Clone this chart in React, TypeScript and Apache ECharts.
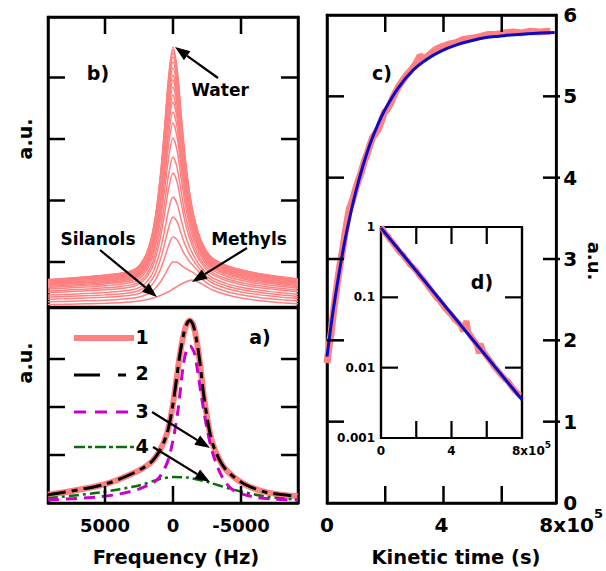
import React, { useEffect, useRef } from 'react';
import * as echarts from 'echarts';

const FONT = 'DejaVu Sans';
const RED = '#ff8080';
const BLUE = '#0c0cc4';
const MAGENTA = '#cc00cc';
const GREEN = '#0b6e0b';

// ---------- panel a) : frequency (Hz) vs a.u. ----------
const aFreqTotal = [9190, 5150, 2940, 1690, 960, 440, 70, -220, -510, -810, -1030, -1250, -1470, -1760, -1990, -2280, -2720, -3090, -3820, -5150, -6910, -9190];
const aValTotal = [0.17, 0.38, 0.62, 0.83, 1.10, 1.45, 1.94, 2.5, 3.1, 3.55, 3.74, 3.80, 3.72, 3.35, 2.9, 2.2, 1.45, 1.10, 0.72, 0.41, 0.22, 0.14];
const aFreqWater = [9190, 5370, 3900, 2430, 1180, 440, 0, -370, -740, -960, -1250, -1540, -1760, -2130, -2500, -2940, -3600, -4410, -5880, -7500, -9190];
const aValWater = [0.06, 0.13, 0.19, 0.30, 0.48, 0.83, 1.31, 1.94, 2.84, 3.15, 3.27, 3.15, 2.84, 2.15, 1.55, 1.02, 0.55, 0.27, 0.13, 0.08, 0.06];
const aFreqBroad = [9190, 5370, 2430, 960, 0, -1030, -2500, -4410, -6910, -9190];
const aValBroad = [0.10, 0.22, 0.37, 0.50, 0.54, 0.53, 0.44, 0.28, 0.13, 0.07];
const freqTicks = [5000, 0, -5000];
const aTicks = [1, 2, 3];
const legendNames = ['1', '2', '3', '4'];

// ---------- panel b) : spectra during kinetics ----------
const bFreq = [9191, 8000, 7000, 6000, 5000, 4000, 3000, 2500, 2000, 1600, 1400, 1200, 900, 600, 300, 0, -300, -600, -900, -1200, -1400, -1600, -2000, -2500, -3000, -4000, -5000, -6000, -7000, -8000, -9191];
const bWaterShape = [0.103, 0.107, 0.110, 0.113, 0.117, 0.121, 0.130, 0.145, 0.185, 0.25, 0.30, 0.37, 0.51, 0.70, 0.90, 1.0, 0.90, 0.70, 0.51, 0.37, 0.30, 0.25, 0.185, 0.145, 0.130, 0.121, 0.117, 0.113, 0.110, 0.107, 0.103];
const bBaseShape = [2.5, 2.7, 3.0, 3.3, 3.7, 4.3, 5.2, 6.0, 7.2, 8.4, 9.2, 10.2, 11.7, 13.5, 15.5, 18, 20.5, 23, 25, 26.5, 27, 26.5, 24, 20, 16.5, 12, 9, 7, 5.5, 4.3, 3.2];
const bWaterAmp = [242, 239, 236, 232, 227, 221, 214, 209, 202, 194, 187, 177, 166, 151, 132, 116, 92, 72, 52, 27, 0];
const bTicks = [45, 106.5, 168, 229.5];

// ---------- panel c) : kinetics (time in 1e5 s) ----------
const cDataT = [0, 0.05, 0.1, 0.15, 0.2, 0.27, 0.33, 0.4, 0.47, 0.55, 0.62, 0.7, 0.78, 0.85, 0.92, 1.0, 1.1, 1.2, 1.3, 1.4, 1.5, 1.6, 1.7, 1.8, 1.9, 2.0, 2.1, 2.2, 2.35, 2.5, 2.65, 2.8, 2.95, 3.1, 3.25, 3.4, 3.6, 3.8, 4.0, 4.25, 4.5, 4.75, 5.0, 5.3, 5.6, 5.9, 6.2, 6.5, 6.8, 7.1, 7.4, 7.8];
const cDataV = [1.72, 1.86, 1.99, 2.11, 2.27, 2.47, 2.62, 2.80, 2.97, 3.12, 3.30, 3.46, 3.62, 3.68, 3.76, 3.86, 3.97, 4.07, 4.20, 4.29, 4.40, 4.50, 4.55, 4.60, 4.70, 4.80, 4.84, 4.90, 5.02, 5.12, 5.20, 5.27, 5.33, 5.40, 5.50, 5.46, 5.52, 5.58, 5.61, 5.64, 5.66, 5.70, 5.71, 5.73, 5.76, 5.76, 5.78, 5.79, 5.78, 5.80, 5.79, 5.80];
const cFitT = [0, 0.2, 0.4, 0.6, 0.8, 1.0, 1.25, 1.5, 1.75, 2.0, 2.5, 3.0, 3.5, 4.0, 4.5, 5.0, 5.5, 6.0, 7.0, 7.95];
const cFitV = [1.80, 2.33, 2.78, 3.18, 3.52, 3.82, 4.14, 4.41, 4.63, 4.82, 5.11, 5.32, 5.46, 5.56, 5.63, 5.68, 5.72, 5.74, 5.77, 5.785];
const cLabelTicks = [0, 4, 8];
const cTimeTicks = [2, 4, 6];
const cValTicks = [1, 2, 3, 4, 5];

// ---------- panel d) : log inset ----------
const dDataT = [0, 0.1, 0.2, 0.3, 0.4, 0.5, 0.6, 0.75, 0.9, 1.0, 1.1, 1.25, 1.4, 1.5, 1.65, 1.8, 2.0, 2.15, 2.3, 2.5, 2.7, 2.85, 3.0, 3.2, 3.35, 3.5, 3.7, 3.85, 4.0, 4.2, 4.4, 4.55, 4.65, 4.75, 4.85, 4.95, 5.1, 5.3, 5.45, 5.55, 5.65, 5.8, 6.0, 6.2, 6.4, 6.6, 6.8, 7.0, 7.2, 7.4, 7.6, 7.8, 7.9];
const dDataV = [1.0, 0.93, 0.85, 0.78, 0.74, 0.66, 0.63, 0.56, 0.50, 0.46, 0.43, 0.40, 0.35, 0.33, 0.29, 0.27, 0.24, 0.21, 0.19, 0.165, 0.14, 0.125, 0.112, 0.096, 0.088, 0.078, 0.067, 0.061, 0.056, 0.048, 0.043, 0.039, 0.033, 0.040, 0.046, 0.032, 0.028, 0.024, 0.021, 0.016, 0.022, 0.017, 0.0145, 0.0125, 0.0105, 0.0092, 0.0080, 0.0070, 0.0064, 0.0054, 0.0047, 0.0042, 0.0040];
const dFitT = [0, 8];
const dFitV = [0.97, 0.0035];
const dLogTicks = [0.1, 0.01];

// layout of the four plot boxes
const GB = { l: 48, t: 17, w: 250, h: 290 };
const GA = { l: 48, t: 308, w: 250, h: 195 };
const GC = { l: 327, t: 15, w: 233, h: 488 };
const GD = { l: 381, t: 227, w: 141, h: 211 };
const FMAX = 9191;
const B_MAX = 290;
const A_MAX = 4.0625;
const TL = 17;

const zip = (xs: number[], ys: number[]) => xs.map((x, i) => [x, ys[i]]);
const axLine = { show: true, onZero: false, lineStyle: { color: '#000', width: 2.5 } };
const axLineSmall = { show: true, onZero: false, lineStyle: { color: '#000', width: 2.2 } };
const noTick = { show: false };

function arrow(sx: number, sy: number, tx: number, ty: number, len = 15, hw = 5.5) {
  const dx = tx - sx, dy = ty - sy;
  const L = Math.hypot(dx, dy);
  const ux = dx / L, uy = dy / L;
  const bx = tx - ux * len, by = ty - uy * len;
  const nx = -uy, ny = ux;
  return [
    { type: 'line', z: 100, shape: { x1: sx, y1: sy, x2: bx, y2: by }, style: { stroke: '#000', lineWidth: 2.2 } },
    { type: 'polygon', z: 100, shape: { points: [[tx, ty], [bx + nx * hw, by + ny * hw], [bx - nx * hw, by - ny * hw]] }, style: { fill: '#000' } },
  ];
}

function txt(text: string, x: number, y: number, size: number, rotation = 0, align = 'center') {
  return {
    type: 'text', z: 100, x, y, rotation,
    style: {
      text, fill: '#000', fontSize: size, fontWeight: 'bold', fontFamily: FONT,
      align, verticalAlign: 'middle', textAlign: align, textVerticalAlign: 'middle',
    },
  };
}

function legendLine(y: number, color: string, width: number, dash: number[] | null) {
  return {
    type: 'line', z: 100, shape: { x1: 74, y1: y, x2: 134, y2: y },
    style: { stroke: color, lineWidth: width, lineDash: dash || undefined },
  };
}

// tick marks, mapped with the same ranges as the axes
function tickSeg(x1: number, y1: number, x2: number, y2: number, w = 2.5) {
  return { type: 'line', z: 90, shape: { x1, y1, x2, y2 }, style: { stroke: '#000', lineWidth: w } };
}
function xTicks(g: any, min: number, max: number, inverse: boolean, vals: number[], top: boolean, bottom: boolean, w = 2.5) {
  const out: any[] = [];
  vals.forEach((v) => {
    const f = (v - min) / (max - min);
    const x = g.l + (inverse ? 1 - f : f) * g.w;
    if (top) out.push(tickSeg(x, g.t, x, g.t + TL, w));
    if (bottom) out.push(tickSeg(x, g.t + g.h, x, g.t + g.h - TL, w));
  });
  return out;
}
function yTicks(g: any, min: number, max: number, vals: number[], left: boolean, right: boolean, w = 2.5) {
  const out: any[] = [];
  vals.forEach((v) => {
    const y = g.t + g.h - ((v - min) / (max - min)) * g.h;
    if (left) out.push(tickSeg(g.l, y, g.l + TL, y, w));
    if (right) out.push(tickSeg(g.l + g.w, y, g.l + g.w - TL, y, w));
  });
  return out;
}

export default function App() {
  const ref = useRef<HTMLDivElement>(null);
  useEffect(() => {
    if (!ref.current) return;
    const chart = echarts.init(ref.current, undefined, { renderer: 'svg' });

    const line = (xi: number, yi: number, data: number[][], color: string, width: number, type: any = 'solid', z = 2, smooth: any = 0.3) => ({
      type: 'line', xAxisIndex: xi, yAxisIndex: yi, data, smooth, symbol: 'none', showSymbol: false, silent: true, z,
      lineStyle: { color, width, type }, emphasis: { disabled: true },
    });

    const bSeries = bWaterAmp.map((amp) =>
      line(0, 0, bFreq.map((f, j) => [f, bBaseShape[j] + amp * bWaterShape[j]]), RED, 1.5, 'solid', 2, 0.3)
    );

    const freqAxisBase = { type: 'value', min: -FMAX, max: FMAX, inverse: true, axisLine: axLine, splitLine: { show: false }, axisTick: noTick };

    const supRich = (size: number, sup: number, pad: number, padL: number) => ({
      n: { fontSize: size, fontWeight: 'bold', fontFamily: FONT, color: '#000', padding: [pad, 0, 0, 0] },
      m: { fontSize: size, fontWeight: 'bold', fontFamily: FONT, color: '#000', padding: [pad, 0, 0, padL] },
      s: { fontSize: sup, fontWeight: 'bold', fontFamily: FONT, color: '#000', verticalAlign: 'top' },
    });
    const gridOf = (g: any, bw: number, bg: string) => ({ left: g.l, top: g.t, width: g.w, height: g.h, show: true, borderColor: '#000', borderWidth: bw, backgroundColor: bg });

    const logv = (v: number) => Math.log10(v);
    const tickMarks = [
      ...xTicks(GB, -FMAX, FMAX, true, freqTicks, true, false),
      ...yTicks(GB, 0, B_MAX, bTicks, true, true),
      ...xTicks(GA, -FMAX, FMAX, true, freqTicks, false, true),
      ...yTicks(GA, 0, A_MAX, aTicks, true, true),
      ...xTicks(GC, 0, 8, false, cTimeTicks, true, true),
      ...yTicks(GC, 0, 6, cValTicks, true, true),
      ...xTicks(GD, 0, 8, false, cTimeTicks, true, true, 2.2),
      ...yTicks(GD, logv(0.001), logv(1), dLogTicks.map(logv), true, true, 2.2),
    ];

    const option: any = {
      animation: false,
      textStyle: { fontFamily: FONT },
      grid: [gridOf(GB, 2.5, 'transparent'), gridOf(GA, 2.5, 'transparent'), gridOf(GC, 2.5, 'transparent'), gridOf(GD, 2.2, '#fff')],
      xAxis: [
        { ...freqAxisBase, gridIndex: 0, position: 'top', axisLabel: { show: false } },
        {
          ...freqAxisBase, gridIndex: 1, position: 'bottom',
          axisLabel: { customValues: freqTicks, fontSize: 18, fontWeight: 'bold', fontFamily: FONT, color: '#000', margin: 13, formatter: (v: number) => String(v) },
        },
        {
          type: 'value', gridIndex: 2, min: 0, max: 8, interval: 2, position: 'bottom', axisLine: axLine, splitLine: { show: false }, axisTick: noTick,
          axisLabel: {
            customValues: cLabelTicks, margin: 4, color: '#000',
            formatter: (v: number) => (v === 8 ? '{m|8x10}{s|5}' : `{n|${v}}`),
            rich: supRich(20, 13, 8, 30),
          },
        },
        { type: 'value', gridIndex: 2, min: 0, max: 8, interval: 2, position: 'top', axisLine: axLine, splitLine: { show: false }, axisTick: noTick, axisLabel: { show: false } },
        {
          type: 'value', gridIndex: 3, min: 0, max: 8, interval: 2, position: 'bottom', axisLine: axLineSmall, splitLine: { show: false }, axisTick: noTick,
          axisLabel: {
            customValues: cLabelTicks, margin: 2, color: '#000',
            formatter: (v: number) => (v === 8 ? '{m|8x10}{s|5}' : `{n|${v}}`),
            rich: supRich(12, 9, 5, 19),
          },
        },
        { type: 'value', gridIndex: 3, min: 0, max: 8, interval: 2, position: 'top', axisLine: axLineSmall, splitLine: { show: false }, axisTick: noTick, axisLabel: { show: false } },
      ],
      yAxis: [
        { type: 'value', gridIndex: 0, min: 0, max: B_MAX, position: 'left', axisLine: axLine, splitLine: { show: false }, axisTick: noTick, axisLabel: { show: false } },
        { type: 'value', gridIndex: 0, min: 0, max: B_MAX, position: 'right', axisLine: axLine, splitLine: { show: false }, axisTick: noTick, axisLabel: { show: false } },
        { type: 'value', gridIndex: 1, min: 0, max: A_MAX, position: 'left', axisLine: axLine, splitLine: { show: false }, axisTick: noTick, axisLabel: { show: false } },
        { type: 'value', gridIndex: 1, min: 0, max: A_MAX, position: 'right', axisLine: axLine, splitLine: { show: false }, axisTick: noTick, axisLabel: { show: false } },
        {
          type: 'value', gridIndex: 2, min: 0, max: 6, interval: 1, position: 'right', axisLine: axLine, splitLine: { show: false }, axisTick: noTick,
          axisLabel: { fontSize: 20, fontWeight: 'bold', fontFamily: FONT, color: '#000', margin: 7 },
        },
        { type: 'value', gridIndex: 2, min: 0, max: 6, interval: 1, position: 'left', axisLine: axLine, splitLine: { show: false }, axisTick: noTick, axisLabel: { show: false } },
        {
          type: 'log', logBase: 10, gridIndex: 3, min: 0.001, max: 1, position: 'left', axisLine: axLineSmall, splitLine: { show: false }, axisTick: noTick,
          axisLabel: { fontSize: 12, fontWeight: 'bold', fontFamily: FONT, color: '#000', margin: 6, formatter: (v: number) => String(Number(v.toPrecision(1))) },
        },
        { type: 'log', logBase: 10, gridIndex: 3, min: 0.001, max: 1, position: 'right', axisLine: axLineSmall, splitLine: { show: false }, axisTick: noTick, axisLabel: { show: false } },
      ],
      series: [
        ...bSeries,
        line(1, 2, zip(aFreqTotal, aValTotal), RED, 6, 'solid', 2, 0.3),
        line(1, 2, zip(aFreqBroad, aValBroad), GREEN, 2.5, [10, 4, 3, 4], 3, 0.3),
        line(1, 2, zip(aFreqWater, aValWater), MAGENTA, 3, [11, 7], 3, 0.3),
        line(1, 2, zip(aFreqTotal, aValTotal), '#000', 3, [18, 6, 6, 6], 4, 0.3),
        line(2, 4, zip(cDataT, cDataV), RED, 7, 'solid', 2, false),
        line(2, 4, zip(cFitT, cFitV), BLUE, 3, 'solid', 3, 0.4),
        line(4, 6, zip(dDataT, dDataV), RED, 6, 'solid', 5, false),
        line(4, 6, zip(dFitT, dFitV), BLUE, 3, 'solid', 6, false),
      ],
      graphic: [
        ...tickMarks,
        txt('a.u.', 25, 139, 19, Math.PI / 2),
        txt('a.u.', 25, 363, 19, Math.PI / 2),
        txt('a.u.', 594, 261, 18, -Math.PI / 2),
        txt('Frequency (Hz)', 176, 557, 19.5),
        txt('Kinetic time (s)', 456, 557, 19.5),
        txt('b)', 98, 73, 19),
        txt('a)', 260, 337, 19),
        txt('c)', 382, 73, 19),
        txt('d)', 482, 282, 19),
        txt('Water', 220, 90, 17),
        txt('Silanols', 98, 239, 17),
        txt('Methyls', 249, 239, 17),
        legendLine(338, RED, 6, null),
        legendLine(375, '#000', 3, [26, 18, 8, 20]),
        legendLine(412, MAGENTA, 3, [12, 9]),
        legendLine(447, GREEN, 2.5, [11, 3, 4, 3]),
        txt(legendNames[0], 142, 337, 19),
        txt(legendNames[1], 142, 373, 19),
        txt(legendNames[2], 142, 411, 19),
        txt(legendNames[3], 142, 446, 19),
        ...arrow(218, 78, 175, 47),
        ...arrow(100, 250, 157, 297),
        ...arrow(247, 248, 192, 282),
        ...arrow(152, 412, 210, 448),
        ...arrow(153, 447, 210, 482),
      ],
    };
    chart.setOption(option);
    return () => chart.dispose();
  }, []);
  return <div ref={ref} style={{ position: 'fixed', left: 0, top: 0, width: 606, height: 571, background: '#fff' }} />;
}
